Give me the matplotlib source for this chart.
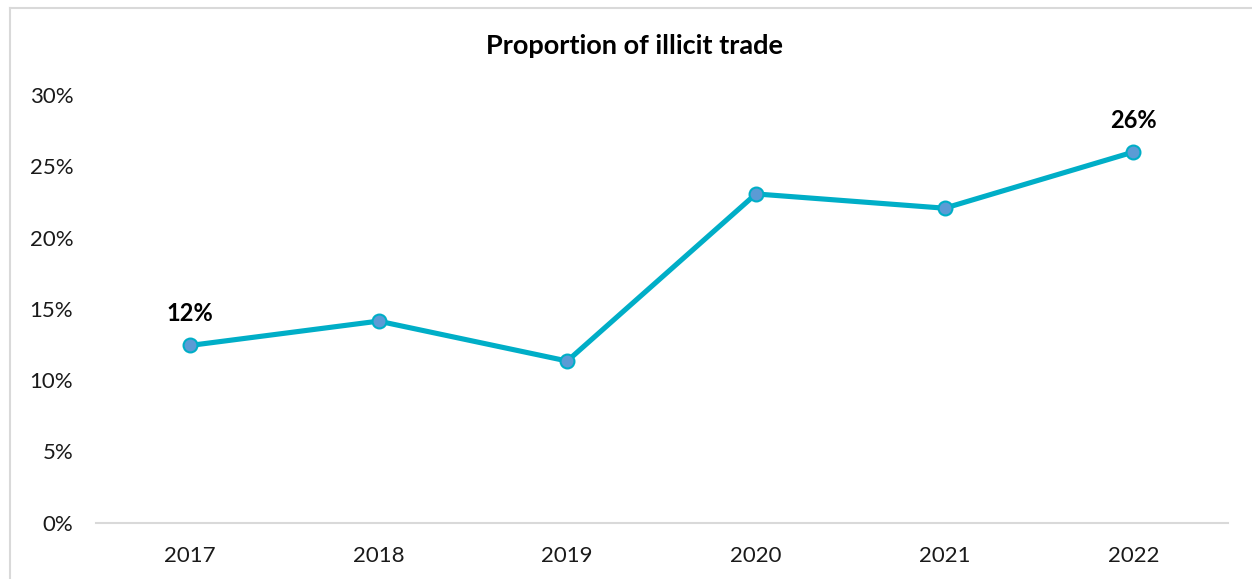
import matplotlib
matplotlib.use("Agg")
import matplotlib.pyplot as plt
from matplotlib.lines import Line2D

plt.rcParams['font.family'] = ['Lato', 'DejaVu Sans']

years = ["2017", "2018", "2019", "2020", "2021", "2022"]
share = [0.1243, 0.1414, 0.1134, 0.2306, 0.2206, 0.26]
labelled = [0, 5]  # only first and last get a value label
yticks = [0, 0.05, 0.10, 0.15, 0.20, 0.25, 0.30]

line_col = "#00AEC7"
dot_col = "#5B9BD5"
grey = "#D9D9D9"

fig = plt.figure(figsize=(12.52, 5.79), dpi=100)
ax = fig.add_axes([95.5 / 1252, 56.3 / 579, (1227.7 - 95.5) / 1252, (522.7 - 95) / 579])

x = list(range(len(years)))
ax.plot(x, share, color=line_col, lw=3.7, marker="o", ms=10,
        markerfacecolor=dot_col, markeredgecolor=line_col, markeredgewidth=1.5,
        solid_capstyle="round", zorder=3)

for i in labelled:
    ax.annotate(f"{share[i] * 100:.0f}%", (x[i], share[i]), xytext=(0, 23),
                textcoords="offset points", ha="center", va="center",
                fontsize=17, fontweight="bold", color="black")

ax.set_xlim(-0.5, len(years) - 0.5)
ax.set_ylim(0, 0.30)
ax.set_xticks(x)
ax.set_xticklabels(years)
ax.set_yticks(yticks)
ax.set_yticklabels([f"{int(round(t * 100))}%" for t in yticks])
ax.tick_params(axis="both", length=0, labelsize=16, colors="#1a1a1a")
ax.tick_params(axis="x", pad=17)
ax.tick_params(axis="y", pad=16)

for s in ["top", "right", "left"]:
    ax.spines[s].set_visible(False)
ax.spines["bottom"].set_color(grey)
ax.spines["bottom"].set_linewidth(1.5)

fig.text(634 / 1252, 1 - 46 / 579, "Proportion of illicit trade", ha="center",
         va="center", fontsize=19.5, fontweight="bold", color="black")

# outer frame: left and top edges
fig.add_artist(Line2D([10 / 1252, 10 / 1252], [0, 1 - 8 / 579], color=grey, lw=1.5,
                      transform=fig.transFigure))
fig.add_artist(Line2D([10 / 1252, 1], [1 - 8 / 579, 1 - 8 / 579], color=grey, lw=1.5,
                      transform=fig.transFigure))

fig.savefig("out.png", dpi=100)
